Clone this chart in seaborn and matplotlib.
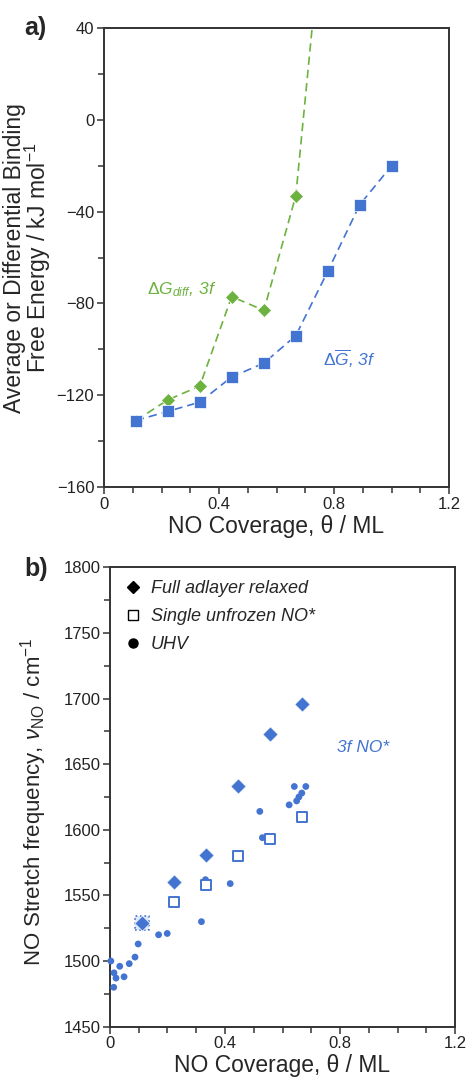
import numpy as np
import pandas as pd
import matplotlib
matplotlib.use('Agg')
import matplotlib.pyplot as plt
from matplotlib.lines import Line2D
from matplotlib.ticker import MultipleLocator
import seaborn as sns

# panel a: binding free energies vs coverage
cov_a = [0.111, 0.222, 0.333, 0.444, 0.556, 0.667, 0.778, 0.889, 1.0]
g_avg = [-131, -127, -123, -112, -106, -94, -66, -37, -20]
cov_diff = [0.111, 0.222, 0.333, 0.444, 0.556, 0.667, 0.778]
g_diff = [-131, -122, -116, -77, -83, -33, 110]

# panel b: NO stretch frequencies
cov_full = [0.111, 0.222, 0.333, 0.444, 0.556, 0.667]
nu_full = [1529, 1560, 1581, 1633, 1673, 1696]
cov_single = [0.111, 0.222, 0.333, 0.444, 0.556, 0.667]
nu_single = [1529, 1545, 1558, 1580, 1593, 1610]
cov_uhv = [0.003, 0.014, 0.021, 0.013, 0.034, 0.049, 0.067, 0.087, 0.098,
           0.169, 0.199, 0.318, 0.332, 0.418, 0.521, 0.530, 0.623, 0.641,
           0.649, 0.657, 0.667, 0.681]
nu_uhv = [1500, 1491, 1487, 1480, 1496, 1488, 1498, 1503, 1513,
          1520, 1521, 1530, 1562, 1559, 1614, 1594, 1619, 1633,
          1622, 1625, 1628, 1633]

blue = '#4374d1'
green = '#6cb23f'
axis_col = '#333333'

sns.set_style('ticks')
plt.rcParams['font.family'] = ['Liberation Sans', 'DejaVu Sans']
plt.rcParams['mathtext.fontset'] = 'custom'
plt.rcParams['mathtext.rm'] = 'Liberation Sans'
plt.rcParams['mathtext.it'] = 'Liberation Sans:italic'
plt.rcParams['mathtext.bf'] = 'Liberation Sans:bold'

fig = plt.figure(figsize=(4.67, 10.8), dpi=100)
ax1 = fig.add_axes([0.2227, 0.549, 0.739, 0.425])
ax2 = fig.add_axes([0.2355, 0.0494, 0.739, 0.4253])


def style_axes(ax):
    for s in ax.spines.values():
        s.set_color(axis_col)
        s.set_linewidth(1.4)
    ax.tick_params(which='both', direction='out', color=axis_col,
                   width=1.1, labelsize=12, labelcolor='#222222',
                   top=False, right=False, pad=2)
    ax.tick_params(which='major', length=5)
    ax.tick_params(which='minor', length=4)
    ax.xaxis.set_major_locator(MultipleLocator(0.4))
    ax.xaxis.set_minor_locator(MultipleLocator(0.1))
    ax.set_xlim(0, 1.2)
    ax.set_xticks([0, 0.4, 0.8, 1.2])
    ax.set_xticklabels(['0', '0.4', '0.8', '1.2'])
    ax.set_xlabel('NO Coverage, θ / ML', fontsize=16.5, labelpad=2)


# ---- panel a ----
df_avg = pd.DataFrame({'cov': cov_a, 'g': g_avg})
df_diff = pd.DataFrame({'cov': cov_diff, 'g': g_diff})
sns.lineplot(data=df_diff, x='cov', y='g', ax=ax1, color=green,
             linestyle=(0, (5, 3)), linewidth=1.2, marker='D',
             markersize=7.5, markeredgecolor='white', markeredgewidth=0.5)
sns.lineplot(data=df_avg, x='cov', y='g', ax=ax1, color=blue,
             linestyle=(0, (5, 3)), linewidth=1.2, marker='s',
             markersize=8, markeredgecolor='white', markeredgewidth=0.5)
style_axes(ax1)
ax1.set_ylim(-160, 40)
ax1.yaxis.set_major_locator(MultipleLocator(40))
ax1.yaxis.set_minor_locator(MultipleLocator(20))
ax1.set_ylabel('Average or Differential Binding\nFree Energy / kJ mol$^{-1}$',
               fontsize=16.5, linespacing=0.86)
ax1.yaxis.set_label_coords(-0.148, 0.5)
ax1.text(0.15, -74, r'$\mathit{\Delta G_{diff}}$, 3f', color=green,
         fontsize=12.5, style='italic', va='center', ha='left')
ax1.text(0.762, -104, r'$\mathit{\Delta\overline{G}}$, 3f', color=blue,
         fontsize=12.5, style='italic', va='center', ha='left')
fig.text(0.052, 0.974, 'a)', fontsize=18, fontweight='bold', va='center')

# ---- panel b ----
df_full = pd.DataFrame({'cov': cov_full, 'nu': nu_full})
df_single = pd.DataFrame({'cov': cov_single, 'nu': nu_single})
df_uhv = pd.DataFrame({'cov': cov_uhv, 'nu': nu_uhv})
sns.scatterplot(data=df_uhv, x='cov', y='nu', ax=ax2, color=blue,
                marker='o', s=24, edgecolor='none', zorder=3, clip_on=False)
# lowest coverage square sits under the diamond, drawn with a dotted edge
sns.scatterplot(data=df_single.iloc[:1], x='cov', y='nu', ax=ax2, marker='s',
                s=100, facecolor='#dfe7f7', edgecolor=blue, linewidth=1.2,
                linestyle=':', zorder=4)
sns.scatterplot(data=df_single.iloc[1:], x='cov', y='nu', ax=ax2, marker='s',
                s=58, facecolor='white', edgecolor=blue, linewidth=1.4,
                zorder=4)
sns.scatterplot(data=df_full, x='cov', y='nu', ax=ax2, color=blue,
                marker='D', s=60, edgecolor='white', linewidth=0.5, zorder=5)
style_axes(ax2)
ax2.set_ylim(1450, 1800)
ax2.yaxis.set_major_locator(MultipleLocator(50))
ax2.yaxis.set_minor_locator(MultipleLocator(25))
ax2.set_ylabel(r'NO Stretch frequency, $\nu_{\mathrm{NO}}$ / cm$^{-1}$',
               fontsize=16)
ax2.yaxis.set_label_coords(-0.177, 0.49)
ax2.text(0.79, 1663, '3f NO*', color=blue, fontsize=12.5, style='italic',
         va='center', ha='left')
handles = [
    Line2D([], [], linestyle='none', marker='D', color='black', markersize=6.5),
    Line2D([], [], linestyle='none', marker='s', markerfacecolor='white',
           markeredgecolor='black', markersize=7, markeredgewidth=1),
    Line2D([], [], linestyle='none', marker='o', color='black', markersize=6.5),
]
ax2.legend(handles, ['Full adlayer relaxed', 'Single unfrozen NO*', 'UHV'],
           loc='upper left', frameon=False, handletextpad=0.35,
           handlelength=1.2, borderaxespad=0.3, labelspacing=0.62,
           prop={'style': 'italic', 'size': 13})
fig.text(0.052, 0.473, 'b)', fontsize=18, fontweight='bold', va='center')

fig.savefig('out.png', dpi=100)
